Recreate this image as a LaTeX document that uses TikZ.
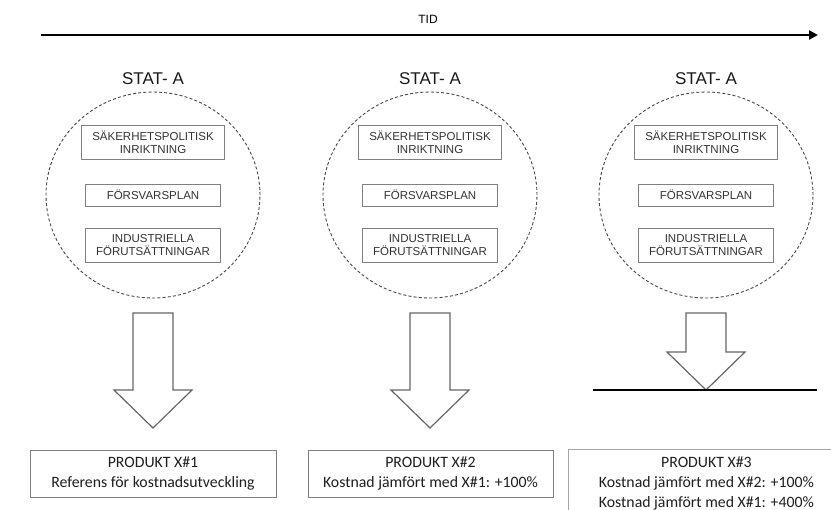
\documentclass[tikz,border=0pt]{standalone}
\usepackage{fontspec}
\setmainfont{Liberation Sans}
\newfontfamily\prodfont{Carlito}
\usetikzlibrary{arrows.meta}
\begin{document}
\begin{tikzpicture}[x=1pt,y=-1pt,
  statlabel/.style={font=\fontsize{17}{20}\selectfont, text=black!90, inner sep=0pt},
  zone/.style={draw=black!72, dash pattern=on 3pt off 2.2pt, line width=0.9pt},
  inbox/.style={draw=black!50, line width=0.8pt, align=center, inner sep=0pt,
    font=\fontsize{11.5}{13.5}\selectfont, text=black!80},
  blockarrow/.style={draw=black!60, fill=white, line width=1.2pt, line join=miter},
  prodbox/.style={draw=black!50, line width=0.8pt, align=center, inner sep=0pt,
    font=\prodfont\fontsize{15.8}{20}\selectfont, text=black!88},
  timeline/.style={line width=2.4pt, -{Triangle[length=9pt,width=9pt]}},
  ground/.style={line width=2.6pt}
]
\useasboundingbox (0,0) rectangle (831,510);
\clip (0,0) rectangle (831,510);
\fill[white] (0,0) rectangle (831,510);

% time axis
\coordinate (tl0) at (41,35);
\coordinate (tl1) at (818,35);
\draw[timeline] (tl0) -- (tl1);
\node[font=\fontsize{12}{14}\selectfont, inner sep=0pt] (tid) at (428,19) {TID};

% three state columns
\foreach \i/\cx in {1/153,2/430,3/706}{
  \node[statlabel] (s\i) at (\cx,79) {STAT- A};
  \coordinate (c\i) at (\cx,195);
  \draw[zone] (c\i) ellipse [x radius=107pt, y radius=103pt];
  \node[inbox, minimum width=143pt, minimum height=34pt] (a\i) at (\cx,142) {SÄKERHETSPOLITISK\\INRIKTNING};
  \node[inbox, minimum width=135pt, minimum height=22pt] (b\i) at (\cx,195) {FÖRSVARSPLAN};
  \node[inbox, minimum width=135pt, minimum height=34pt] (d\i) at (\cx,245) {INDUSTRIELLA\\FÖRUTSÄTTNINGAR};
  \coordinate (t\i) at (\cx,313);
}

% block arrows
\draw[blockarrow] (t1) ++(-20,0) -- ++(40,0) -- ++(0,77) -- ++(19,0) -- ++(-39,38) -- ++(-39,-38) -- ++(19,0) -- cycle;
\draw[blockarrow] (t2) ++(-20,0) -- ++(40,0) -- ++(0,77) -- ++(19,0) -- ++(-39,38) -- ++(-39,-38) -- ++(19,0) -- cycle;
\draw[blockarrow] (t3) ++(-20,0) -- ++(40,0) -- ++(0,39) -- ++(19,0) -- ++(-39,38) -- ++(-39,-38) -- ++(19,0) -- cycle;

% barrier line
\coordinate (g0) at (593,390);
\coordinate (g1) at (817,390);
\draw[ground] (g0) -- (g1);

% product boxes
\node[prodbox, minimum width=246pt, minimum height=47pt] (p1) at (153,473.5)
  {PRODUKT X\#1\\Referens för kostnadsutveckling};
\node[prodbox, minimum width=245pt, minimum height=47pt] (p2) at (430.5,473.5)
  {PRODUKT X\#2\\Kostnad jämfört med X\#1: +100\%};
\node[prodbox, draw=black!35, anchor=north west, minimum width=276pt, inner ysep=7pt] (p3) at (568,449)
  {PRODUKT X\#3\\Kostnad jämfört med X\#2: +100\%\\Kostnad jämfört med X\#1: +400\%};
\end{tikzpicture}
\end{document}
